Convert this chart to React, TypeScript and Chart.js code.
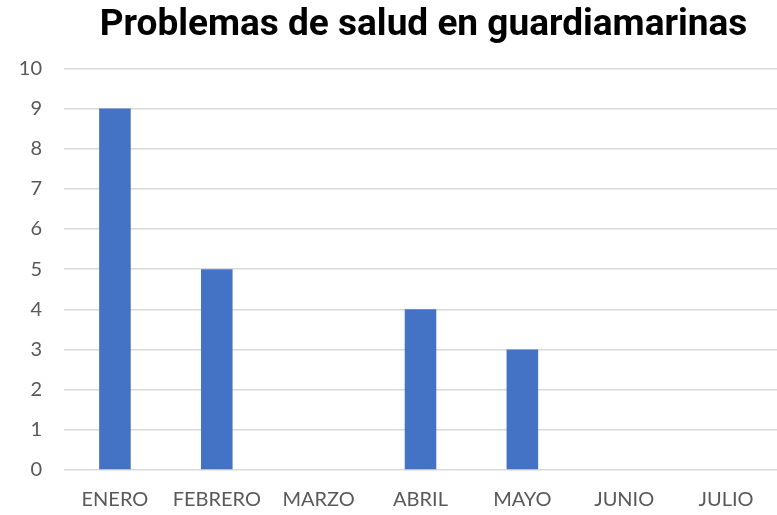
import React, { useEffect, useRef } from "react";
import { Chart, registerables } from "chart.js";

Chart.register(...registerables);

const TITLE = "Problemas de salud en guardiamarinas";
const MONTHS = ["ENERO", "FEBRERO", "MARZO", "ABRIL", "MAYO", "JUNIO", "JULIO"];
const CASES = [9, 5, 0, 4, 3, 0, 0];
const Y_MIN = 0;
const Y_MAX = 10;
const Y_STEP = 1;

const shiftTitle = {
  id: "shiftTitle",
  afterLayout(chart: any) {
    const t = chart.titleBlock;
    if (t) {
      t.left += 70;
    }
  },
};

export default function App() {
  const ref = useRef<HTMLCanvasElement | null>(null);

  useEffect(() => {
    document.body.style.margin = "0";
    const canvas = ref.current;
    if (!canvas) return;
    const chart = new Chart(canvas, {
      type: "bar",
      data: {
        labels: MONTHS,
        datasets: [
          {
            label: "Casos",
            data: CASES,
            backgroundColor: "#4472C4",
            categoryPercentage: 1,
            barPercentage: 0.31,
          },
        ],
      },
      plugins: [shiftTitle],
      options: {
        animation: false,
        responsive: false,
        maintainAspectRatio: false,
        layout: { padding: { left: 0, right: 0, top: 0, bottom: 0 } },
        plugins: {
          legend: { display: false },
          tooltip: { enabled: false },
          title: {
            display: true,
            text: TITLE,
            color: "#000000",
            font: { family: "Roboto", size: 37, weight: "bold" },
            padding: { top: 4, bottom: 20 },
          },
        },
        scales: {
          x: {
            afterFit: (s: any) => {
              s.height = 45;
            },
            grid: { display: false, drawTicks: false },
            border: { display: false },
            ticks: {
              color: "#595959",
              font: { family: "Lato", size: 20 },
              padding: 18,
              maxRotation: 0,
              autoSkip: false,
            },
          },
          y: {
            min: Y_MIN,
            max: Y_MAX,
            afterFit: (s: any) => {
              s.width = 64;
            },
            ticks: {
              stepSize: Y_STEP,
              color: "#595959",
              font: { family: "Lato", size: 20 },
              padding: 22,
            },
            grid: { color: "#d9d9d9", lineWidth: 1.5, drawTicks: false },
            border: { display: false },
          },
        },
      },
    });
    return () => chart.destroy();
  }, []);

  return (
    <div style={{ position: "fixed", left: 0, top: 0, width: 777, height: 515, background: "#ffffff" }}>
      <canvas ref={ref} width={777} height={515} style={{ width: 777, height: 515 }} />
    </div>
  );
}
